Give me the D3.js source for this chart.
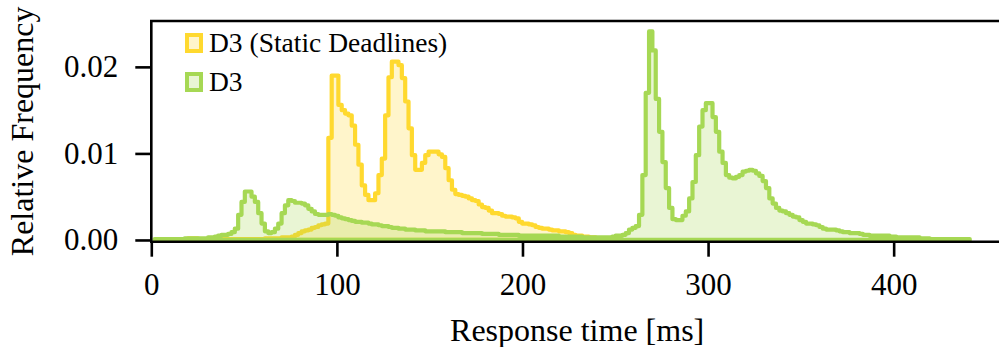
<!DOCTYPE html>
<html>
<head>
<meta charset="utf-8">
<script src="https://cdn.jsdelivr.net/npm/d3@7/dist/d3.min.js"></script>
<style>
  html, body { margin: 0; padding: 0; background: #ffffff; }
  svg { display: block; }
  text { font-family: "Liberation Serif", "Times New Roman", "DejaVu Serif", serif; fill: #000; }
</style>
</head>
<body>
<svg id="chart" width="999" height="347" font-family="Liberation Serif, serif"></svg>
<script>
// Histogram bin width (ms); bin i covers [i*binWidth, (i+1)*binWidth)
const binWidth = 1.8;

// Series names (legend order)
const seriesNames = ["D3 (Static Deadlines)", "D3"];

// Relative frequency per bin — D3 with static deadlines
const staticValues = [
  0, 0, .0001, .0001, .0001, .0001, .0001, .0001, .0001, .0001,
  .0001, .0002, .0002, .0002, .0001, .0001, .0001, .0001, .0001, .0001,
  .0001, .0001, .0001, .0001, .0001, .0001, .0001, .0001, .0001, .0001,
  .0001, .0001, .0001, .0001, .0002, .0002, .0002, .0002, .0002, .0003,
  .0003, .0003, .0004, .0006, .0008, .0010, .0011, .0012, .0014, .0015,
  .0017, .0018, .0019, .0118, .0190, .0190, .0156, .0150, .0146, .0144,
  .0132, .0110, .0087, .0063, .0052, .0046, .0046, .0054, .0075, .0094,
  .0144, .0188, .0206, .0206, .0202, .0187, .0160, .0129, .0098, .0081,
  .0081, .0089, .0098, .0102, .0102, .0102, .0099, .0096, .0083, .0069,
  .0058, .0053, .0052, .0051, .0050, .0048, .0046, .0045, .0041, .0038,
  .0037, .0034, .0031, .0031, .0030, .0028, .0027, .0027, .0026, .0025,
  .0021, .0019, .0019, .0018, .0017, .0015, .0014, .0013, .0013, .0012,
  .0011, .0011, .0010, .0010, .0009, .0008, .0006, .0005, .0005, .0004,
  .0004, .0003, .0003, .0002, .0002, .0002, .0001, .0001
];

// Relative frequency per bin — D3
const d3Values = [
  0, .0001, .0001, .0001, .0001, .0001, .0001, .0001, .0001, .0001,
  .0002, .0002, .0002, .0002, .0002, .0002, .0002, .0003, .0003, .0004,
  .0005, .0006, .0006, .0007, .0009, .0013, .0029, .0044, .0056, .0056,
  .0050, .0044, .0031, .0019, .0010, .0008, .0009, .0013, .0019, .0031,
  .0040, .0046, .0045, .0043, .0043, .0042, .0040, .0036, .0033, .0030,
  .0029, .0029, .0029, .0030, .0029, .0028, .0026, .0025, .0024, .0023,
  .0022, .0021, .0021, .0020, .0020, .0019, .0018, .0018, .0017, .0016,
  .0016, .0015, .0014, .0014, .0013, .0013, .0012, .0012, .0012, .0011,
  .0011, .0011, .0010, .0010, .0010, .0010, .0010, .0010, .0009, .0009,
  .0009, .0009, .0009, .0008, .0008, .0008, .0008, .0008, .0008, .0007,
  .0007, .0007, .0007, .0007, .0006, .0006, .0006, .0006, .0006, .0006,
  .0005, .0005, .0005, .0005, .0005, .0005, .0005, .0005, .0005, .0005,
  .0005, .0005, .0004, .0004, .0004, .0004, .0004, .0004, .0004, .0003,
  .0003, .0003, .0003, .0003, .0003, .0003, .0003, .0003, .0004, .0005,
  .0005, .0006, .0008, .0012, .0014, .0016, .0029, .0075, .0170, .0241,
  .0219, .0163, .0125, .0090, .0060, .0037, .0024, .0023, .0023, .0028,
  .0033, .0048, .0067, .0098, .0131, .0150, .0158, .0158, .0142, .0125,
  .0102, .0089, .0075, .0072, .0071, .0073, .0075, .0079, .0080, .0081,
  .0080, .0077, .0074, .0068, .0060, .0048, .0042, .0037, .0034, .0033,
  .0031, .0029, .0027, .0026, .0023, .0021, .0019, .0019, .0018, .0017,
  .0015, .0013, .0012, .0012, .0012, .0011, .0010, .0009, .0009, .0008,
  .0008, .0008, .0007, .0006, .0006, .0005, .0005, .0005, .0005, .0005,
  .0005, .0004, .0004, .0003, .0003, .0003, .0003, .0003, .0003, .0003,
  .0002, .0002, .0002, .0001, .0001, .0001, .0001, .0001, .0001, .0001,
  .0001, .0001, .0001, .0001, .0001
];

// Axis ticks
const xTicks = [0, 100, 200, 300, 400];
const yTicks = [0.00, 0.01, 0.02];

// Series colours (stroke, translucent fill)
const strokeColors = ["#ffd92f", "#a6d854"];
const fillColors = ["rgba(255,217,47,0.25)", "rgba(166,216,84,0.25)"];

const svg = d3.select("#chart");
const W = 999, H = 347;
const plot = { left: 151.3, right: 1001.3, top: 21, bottom: 241.7 };

const x = d3.scaleLinear().domain([0, 458]).range([plot.left, plot.right]);
const y = d3.scaleLinear().domain([-0.0002, 0.0253]).range([plot.bottom, plot.top]);

svg.append("defs").append("clipPath").attr("id", "plotclip")
  .append("rect")
  .attr("x", plot.left).attr("y", plot.top)
  .attr("width", plot.right - plot.left).attr("height", plot.bottom - plot.top);

// Build a closed step outline (baseline → steps → baseline) for one histogram
function stepOutline(values) {
  let first = values.findIndex(v => v > 0);
  let last = values.length - 1;
  while (last > first && values[last] <= 0) last--;
  const pts = [[first * binWidth, 0]];
  for (let i = first; i <= last; i++) {
    pts.push([i * binWidth, values[i]]);
    pts.push([(i + 1) * binWidth, values[i]]);
  }
  pts.push([(last + 1) * binWidth, 0]);
  return pts;
}

const line = d3.line().x(d => x(d[0])).y(d => y(d[1]));
const g = svg.append("g").attr("clip-path", "url(#plotclip)");

[staticValues, d3Values].forEach((vals, k) => {
  const pts = stepOutline(vals);
  g.append("path")
    .attr("d", line(pts) + "Z")
    .attr("fill", fillColors[k])
    .attr("stroke", "none");
  g.append("path")
    .attr("d", line(pts) + "Z")
    .attr("fill", "none")
    .attr("stroke", strokeColors[k])
    .attr("stroke-width", 4.2)
    .attr("stroke-linejoin", "round");
});

// Spines: left, top, bottom (right edge lies outside the canvas)
const spine = svg.append("g").attr("stroke", "#000").attr("stroke-width", 2.6).attr("fill", "none");
spine.append("line").attr("x1", plot.left).attr("x2", plot.left).attr("y1", plot.top).attr("y2", plot.bottom + 1.3);
spine.append("line").attr("x1", plot.left - 1.3).attr("x2", W + 5).attr("y1", plot.top).attr("y2", plot.top);
spine.append("line").attr("x1", plot.left - 1.3).attr("x2", W + 5).attr("y1", plot.bottom).attr("y2", plot.bottom);

const serif = "Liberation Serif, Times New Roman, serif";

// X axis
const xAxis = d3.axisBottom(x).tickValues(xTicks).tickSize(15).tickPadding(16).tickFormat(d3.format("d"));
const gx = svg.append("g").attr("transform", `translate(0,${plot.bottom})`).call(xAxis);
gx.attr("font-family", serif);
gx.select(".domain").remove();
gx.selectAll(".tick line").attr("stroke", "#000").attr("stroke-width", 2.6);
gx.selectAll(".tick text").attr("font-size", 31).attr("font-family", serif).attr("fill", "#000");

// Y axis
const yAxis = d3.axisLeft(y).tickValues(yTicks).tickSize(16).tickPadding(17).tickFormat(d3.format(".2f"));
const gy = svg.append("g").attr("transform", `translate(${plot.left},0)`).call(yAxis);
gy.attr("font-family", serif);
gy.select(".domain").remove();
gy.selectAll(".tick line").attr("stroke", "#000").attr("stroke-width", 2.6);
gy.selectAll(".tick text").attr("font-size", 31).attr("font-family", serif).attr("fill", "#000");

// Axis titles
svg.append("text")
  .attr("x", (plot.left + 999) / 2 + 2).attr("y", 341)
  .attr("text-anchor", "middle").attr("font-size", 32).attr("font-family", serif)
  .text("Response time [ms]");
svg.append("text")
  .attr("transform", `translate(33,${(plot.top + plot.bottom) / 2}) rotate(-90)`)
  .attr("text-anchor", "middle").attr("font-size", 32).attr("font-family", serif)
  .text("Relative Frequency");

// Legend
const legend = svg.append("g");
seriesNames.forEach((name, k) => {
  const rowY = 35 + k * 39;
  legend.append("rect")
    .attr("x", 187).attr("y", rowY).attr("width", 14).attr("height", 16)
    .attr("fill", fillColors[k]).attr("stroke", strokeColors[k]).attr("stroke-width", 4);
  legend.append("text")
    .attr("x", 209).attr("y", rowY + 17)
    .attr("font-size", 27.5).attr("font-family", serif)
    .text(name);
});
</script>
</body>
</html>
